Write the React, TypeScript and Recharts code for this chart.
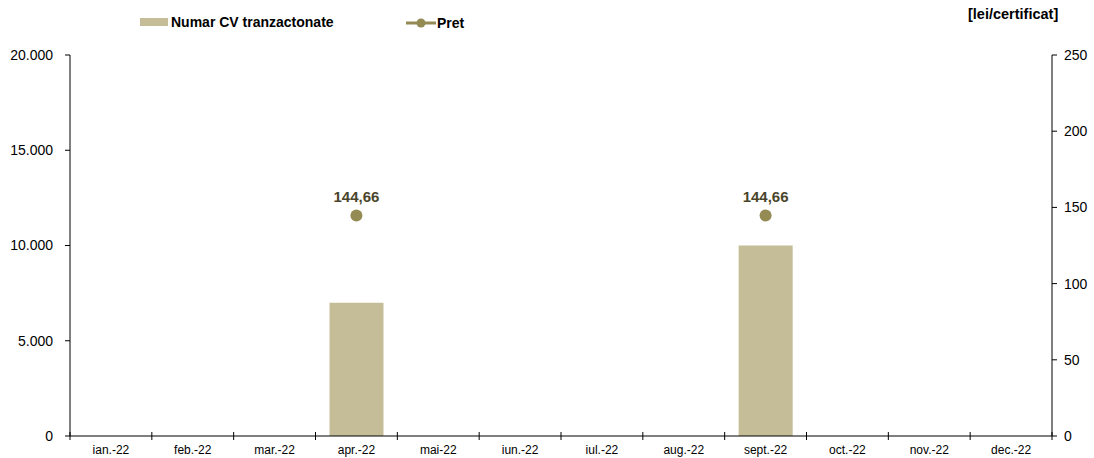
import { ComposedChart, Bar, Line, XAxis, YAxis, LabelList } from "recharts";

const months = ["ian.-22", "feb.-22", "mar.-22", "apr.-22", "mai-22", "iun.-22", "iul.-22", "aug.-22", "sept.-22", "oct.-22", "nov.-22", "dec.-22"];
const volumes = [null, null, null, 7000, null, null, null, null, 10000, null, null, null];
const prices = [null, null, null, 144.66, null, null, null, null, 144.66, null, null, null];
const leftTicks = [0, 5000, 10000, 15000, 20000];
const rightTicks = [0, 50, 100, 150, 200, 250];

const data = months.map((m, i) => ({ month: m, cv: volumes[i], pret: prices[i] }));

const FONT = "'Liberation Sans', Arial, sans-serif";
const BAR = "#c4bd97";
const DOT = "#948a54";

const fmtThousands = (v: number) => v.toLocaleString("de-DE");
const fmtPrice = (v: any) => (v == null ? "" : Number(v).toFixed(2).replace(".", ","));

const MonthTick = (props: any) => {
  const { x, y, payload, index } = props;
  const band = 982 / 12;
  const left = x - band / 2;
  return (
    <g>
      <line x1={left} x2={left} y1={y - 4} y2={y + 4} stroke="#000" />
      {index === months.length - 1 && <line x1={left + band} x2={left + band} y1={y - 4} y2={y + 4} stroke="#000" />}
      <text x={x} y={y + 9} dy="0.71em" textAnchor="middle" fontSize={12} fill="#000" fontFamily={FONT}>
        {payload.value}
      </text>
    </g>
  );
};

export default function App() {
  return (
    <div style={{ position: "relative", width: 1094, height: 458, fontFamily: FONT }}>
      <style>{"body{margin:0}"}</style>
      <ComposedChart width={1094} height={458} data={data} margin={{ top: 55, right: 0, bottom: 0, left: 0 }}>
        <XAxis
          dataKey="month"
          height={22}
          stroke="#000"
          tickLine={false}
          tickSize={0}
          tickMargin={0}
          interval={0}
          tick={<MonthTick />}
        />
        <YAxis
          yAxisId="left"
          width={70}
          domain={[0, 20000]}
          ticks={leftTicks}
          tickFormatter={fmtThousands}
          stroke="#000"
          tickSize={5}
          tickMargin={12}
          tick={{ fontSize: 14, fill: "#000", fontFamily: FONT }}
        />
        <YAxis
          yAxisId="right"
          orientation="right"
          width={42}
          domain={[0, 250]}
          ticks={rightTicks}
          stroke="#000"
          tickSize={5}
          tickMargin={7}
          tick={{ fontSize: 14, fill: "#000", fontFamily: FONT, textAnchor: "start" }}
        />
        <Bar yAxisId="left" dataKey="cv" fill={BAR} barSize={54} isAnimationActive={false} />
        <Line
          yAxisId="right"
          dataKey="pret"
          stroke={DOT}
          strokeWidth={3}
          dot={{ r: 6, fill: DOT, stroke: "none" }}
          activeDot={false}
          isAnimationActive={false}
        >
          <LabelList dataKey="pret" position="top" offset={14} formatter={fmtPrice} fill="#4a452a" fontSize={15} fontWeight="bold" fontFamily={FONT} />
        </Line>
      </ComposedChart>

      <div style={{ position: "absolute", left: 140, top: 14, display: "flex", alignItems: "center", fontSize: 14, fontWeight: "bold", color: "#000", whiteSpace: "nowrap" }}>
        <span style={{ display: "inline-block", width: 28, height: 8, background: BAR, marginRight: 3 }} />
        Numar CV tranzactonate
      </div>
      <div style={{ position: "absolute", left: 406, top: 14, display: "flex", alignItems: "center", fontSize: 14, fontWeight: "bold", color: "#000", whiteSpace: "nowrap" }}>
        <svg width={31} height={18}>
          <line x1={0} x2={30} y1={9} y2={9} stroke={DOT} strokeWidth={3} />
          <circle cx={15} cy={9} r={4.5} fill={DOT} />
        </svg>
        Pret
      </div>
      <div style={{ position: "absolute", left: 968, top: 6, fontSize: 14.5, fontWeight: "bold", color: "#000", whiteSpace: "nowrap" }}>
        [lei/certificat]
      </div>
    </div>
  );
}
